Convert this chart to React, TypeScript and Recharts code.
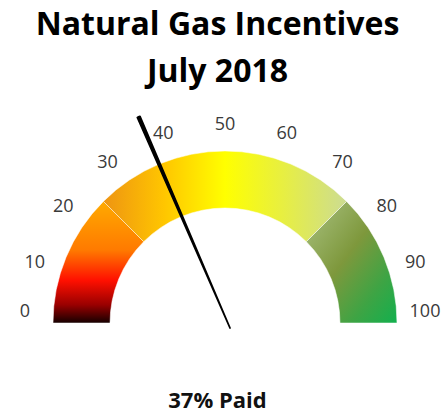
import React from 'react';
import { RadialBarChart, RadialBar, PolarAngleAxis, PieChart, Pie, Cell } from 'recharts';

const bandNames = ['low', 'mid', 'high'];
const bandValues = [25, 50, 25];
const tickValues = [0, 10, 20, 30, 40, 50, 60, 70, 80, 90, 100];
const needleValue = 37;
const titleLines = ['Natural Gas Incentives', 'July 2018'];
const footerText = '37% Paid';

const W = 448;
const H = 413;
const CX = 225;
const CY = 323;
const NEEDLE_W = 0.4;

const gaugeRow: Record<string, any> = { name: 'gauge' };
bandNames.forEach((n, i) => {
  gaugeRow[n] = bandValues[i];
});
const gaugeData = [gaugeRow];

const needleData = [
  { name: 'before', v: needleValue - NEEDLE_W / 2 },
  { name: 'needle', v: NEEDLE_W },
  { name: 'after', v: 100 - needleValue - NEEDLE_W / 2 },
];

const fills: Record<string, string> = { low: 'url(#gLow)', mid: 'url(#gMid)', high: 'url(#gHigh)' };

const Tick = (props: any) => {
  const { x, y, payload } = props;
  const cx = typeof props.cx === 'number' ? props.cx : CX;
  const cy = typeof props.cy === 'number' ? props.cy : CY;
  const dx = x - cx;
  const dy = y - cy;
  const len = Math.hypot(dx, dy) || 1;
  const R = 200;
  const tx = cx + (dx / len) * R;
  let ty = cy + (dy / len) * R;
  ty = Math.min(ty, cy - 13);
  return (
    <text x={tx} y={ty + 6.5} textAnchor="middle" fill="#3a3a3a" fontSize={18} fontFamily="'Open Sans', sans-serif">
      {payload.value}
    </text>
  );
};

export default function App() {
  return (
    <div style={{ position: 'relative', width: W, height: H, background: '#fff' }}>
      <style>{'body{margin:0}'}</style>
      <div style={{ position: 'absolute', left: 0, top: 0 }}>
        <RadialBarChart
          width={W}
          height={H}
          cx={CX}
          cy={CY}
          innerRadius={115}
          outerRadius={172}
          startAngle={180}
          endAngle={0}
          data={gaugeData}
          barCategoryGap={0}
        >
          <defs>
            <linearGradient id="gLow" x1="0" y1="0" x2="0" y2="1">
              <stop offset="0" stopColor="#FFAA00" />
              <stop offset="0.4" stopColor="#FF7A00" />
              <stop offset="0.65" stopColor="#FF1000" />
              <stop offset="0.85" stopColor="#9A0000" />
              <stop offset="1" stopColor="#150000" />
            </linearGradient>
            <linearGradient id="gMid" x1="0" y1="0" x2="1" y2="0">
              <stop offset="0" stopColor="#EE9412" />
              <stop offset="0.25" stopColor="#FFC600" />
              <stop offset="0.5" stopColor="#FFFF00" />
              <stop offset="0.75" stopColor="#E6EE45" />
              <stop offset="1" stopColor="#CCDC92" />
            </linearGradient>
            <linearGradient id="gHigh" x1="0" y1="0" x2="1" y2="1">
              <stop offset="0" stopColor="#AAC282" />
              <stop offset="0.45" stopColor="#7E983C" />
              <stop offset="0.75" stopColor="#3EA444" />
              <stop offset="1" stopColor="#12B04E" />
            </linearGradient>
          </defs>
          <PolarAngleAxis
            type="number"
            domain={[0, 100]}
            ticks={tickValues}
            tick={<Tick />}
            axisLine={false}
            tickLine={false}
          />
          {bandNames.map((n) => (
            <RadialBar
              key={n}
              dataKey={n}
              stackId="g"
              fill={fills[n]}
              stroke="#ffffff"
              strokeOpacity={0.5}
              strokeWidth={1}
              isAnimationActive={false}
            />
          ))}
        </RadialBarChart>
      </div>
      <div style={{ position: 'absolute', left: 0, top: 0 }}>
        <PieChart width={W} height={H}>
          <Pie
            data={needleData}
            dataKey="v"
            cx={CX}
            cy={CY}
            startAngle={180}
            endAngle={0}
            innerRadius={0}
            outerRadius={230}
            isAnimationActive={false}
          >
            {needleData.map((d) => (
              <Cell
                key={d.name}
                fill={d.name === 'needle' ? '#000000' : 'none'}
                stroke={d.name === 'needle' ? '#000000' : 'none'}
                strokeWidth={d.name === 'needle' ? 1.8 : 0}
                strokeLinejoin="round"
              />
            ))}
          </Pie>
        </PieChart>
      </div>
      <svg width={W} height={H} style={{ position: 'absolute', left: 0, top: 0, pointerEvents: 'none' }}>
        <text x={217.5} y={35} textAnchor="middle" fontSize={32} fontWeight="bold" fontFamily="'Open Sans', sans-serif" fill="#000">
          {titleLines[0]}
        </text>
        <text x={217.5} y={82} textAnchor="middle" fontSize={32} fontWeight="bold" fontFamily="'Open Sans', sans-serif" fill="#000">
          {titleLines[1]}
        </text>
        <text x={217.5} y={408} textAnchor="middle" fontSize={22} fontWeight="bold" fontFamily="'Open Sans', sans-serif" fill="#111">
          {footerText}
        </text>
      </svg>
    </div>
  );
}
